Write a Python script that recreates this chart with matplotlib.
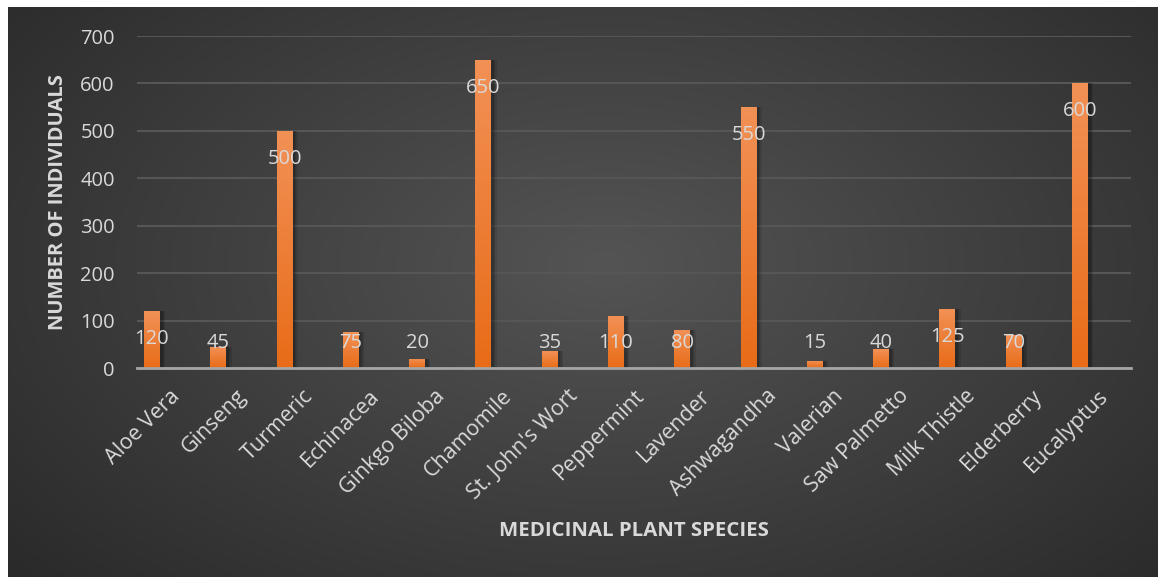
import matplotlib
matplotlib.use("Agg")
import matplotlib.pyplot as plt
import matplotlib.transforms as mtransforms
import numpy as np

plants = ["Aloe Vera", "Ginseng", "Turmeric", "Echinacea", "Ginkgo Biloba",
          "Chamomile", "St. John's Wort", "Peppermint", "Lavender", "Ashwagandha",
          "Valerian", "Saw Palmetto", "Milk Thistle", "Elderberry", "Eucalyptus"]
individuals = [120, 45, 500, 75, 20, 650, 35, 110, 80, 550, 15, 40, 125, 70, 600]
y_ticks = [0, 100, 200, 300, 400, 500, 600, 700]

plt.rcParams['font.family'] = ['Open Sans', 'DejaVu Sans']
txt_col = '#d9d9d9'

W, H = 1158, 577
fig = plt.figure(figsize=(W / 100, H / 100), dpi=100, facecolor='white')

# dark radial background (white strip on top and left like the original)
bg = fig.add_axes([8 / W, 0, 1 - 8 / W, 1 - 7 / H])
yy, xx = np.mgrid[0:1:300j, 0:1:600j]
r = np.sqrt(((xx - 0.52) / 0.75) ** 2 + ((yy - 0.55) / 0.9) ** 2)
r = np.clip(r, 0, 1)
shade = 0.33 - 0.18 * r
bg.imshow(np.dstack([shade] * 3), extent=[0, 1, 0, 1], aspect='auto', origin='lower')
bg.set_axis_off()

ax = fig.add_axes([137 / W, 1 - 368 / H, (1131 - 137) / W, (368 - 36) / H])
ax.patch.set_alpha(0)
x = np.arange(len(plants))
bw = 0.24

# soft shadows
for dx, a in [(0.06, 0.10), (0.04, 0.12), (0.02, 0.15)]:
    ax.bar(x + dx, individuals, width=bw + 0.04, color='black', alpha=a, zorder=2)

bars = ax.bar(x, individuals, width=bw, color='#ee7a2a', zorder=3)
grad = np.linspace(0, 1, 100).reshape(-1, 1)
cmap = matplotlib.colors.LinearSegmentedColormap.from_list('o', ['#e86c18', '#f29156'])
for b in bars:
    im = ax.imshow(grad, cmap=cmap, origin='lower', aspect='auto', zorder=3,
                   extent=[b.get_x(), b.get_x() + b.get_width(), 0, b.get_height()])
    im.set_clip_path(b)

ax.set_xlim(-0.226, 14.77)
ax.set_ylim(0, 700)
ax.set_yticks(y_ticks)
ax.yaxis.grid(True, color='#565656', lw=1.5, zorder=1)
ax.set_axisbelow(True)
for s in ['top', 'right', 'left']:
    ax.spines[s].set_visible(False)
ax.spines['bottom'].set_color('#a6a6a6')
ax.spines['bottom'].set_linewidth(2)
ax.spines['bottom'].set_zorder(4)
ax.tick_params(axis='y', length=0, pad=16, labelsize=14.5, labelcolor=txt_col)
ax.tick_params(axis='x', length=0, pad=4, labelsize=15.5, labelcolor=txt_col)
ax.set_xticks(x)
ax.set_xticklabels(plants, rotation=45, ha='right', va='center', rotation_mode='anchor')
off = mtransforms.ScaledTranslation(18 / 72, -14 / 72, fig.dpi_scale_trans)
for lab in ax.get_xticklabels():
    lab.set_transform(lab.get_transform() + off)

# value labels near the inside end, kept above the axis for short bars
for b, v in zip(bars, individuals):
    ax.annotate(str(v), (b.get_x() + b.get_width() / 2, max(v - 59, 53)),
                ha='center', va='center', fontsize=14.5, color=txt_col, zorder=5)

ax.set_ylabel('NUMBER OF INDIVIDUALS', fontsize=14.5, fontweight='bold', color=txt_col, labelpad=9)
fig.text(634 / W, 1 - 531 / H, 'MEDICINAL PLANT SPECIES', fontsize=14.7, fontweight='bold',
         color=txt_col, ha='center', va='center')

fig.savefig('out.png', dpi=100)
